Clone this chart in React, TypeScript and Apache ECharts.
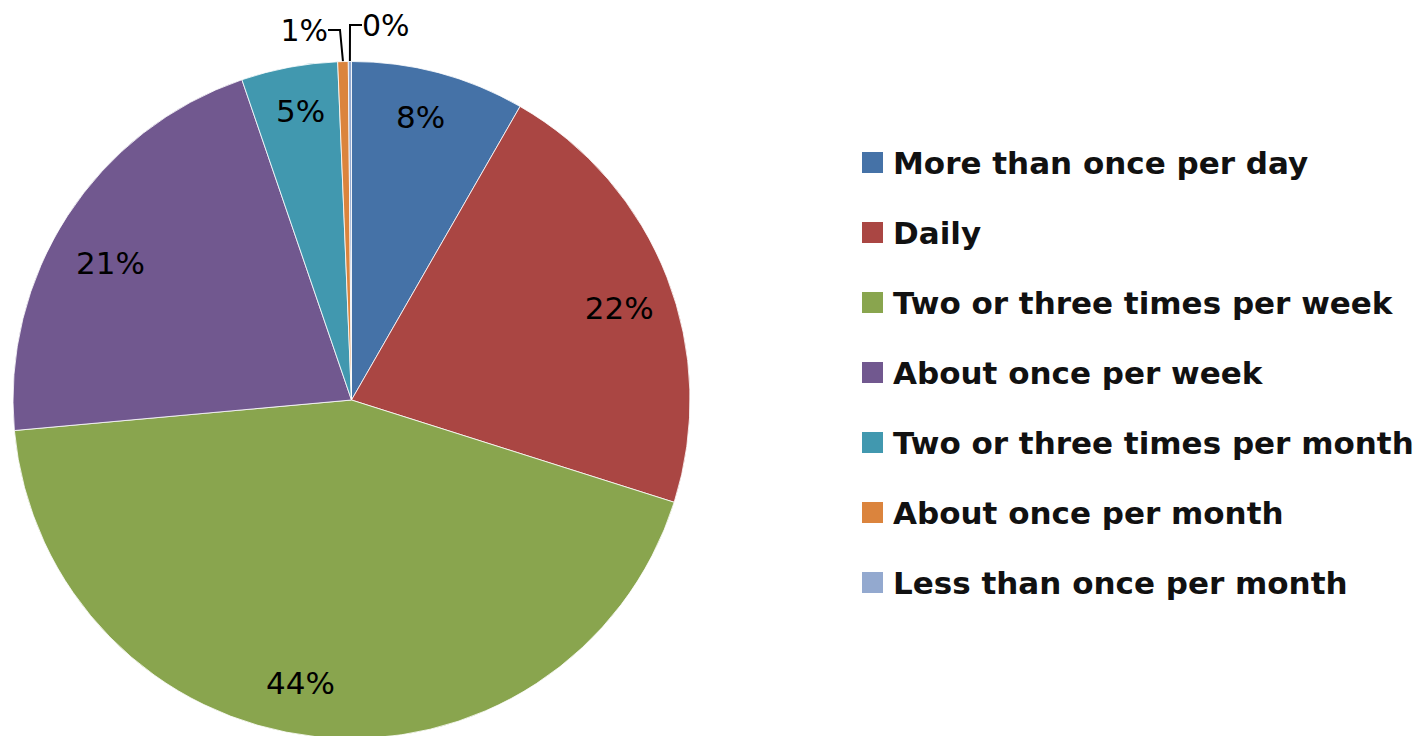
import React, { useEffect, useRef } from "react";
import * as echarts from "echarts";

const categories = [
  "More than once per day",
  "Daily",
  "Two or three times per week",
  "About once per week",
  "Two or three times per month",
  "About once per month",
  "Less than once per month",
];
const values = [8.3, 21.6, 43.7, 21.2, 4.6, 0.5, 0.15];
const labels = ["8%", "22%", "44%", "21%", "5%", "1%", "0%"];
const colors = ["#4572A7", "#AA4643", "#89A54E", "#71588F", "#4198AF", "#DB843D", "#93A9CF"];
const smallIdx = [5, 6];

export default function App() {
  const ref = useRef<HTMLDivElement>(null);
  useEffect(() => {
    const chart = echarts.init(ref.current!, null, { renderer: "svg" });
    const font = "'DejaVu Sans', sans-serif";
    const mainData = categories.map((name, i) => ({
      name,
      value: values[i],
      itemStyle: { color: colors[i] },
      label: smallIdx.includes(i)
        ? { show: true, position: "outside", formatter: labels[i] }
        : { show: false },
      labelLine: smallIdx.includes(i) ? { show: true } : { show: false },
    }));
    const overlayData = categories.map((name, i) => ({
      name,
      value: values[i],
      itemStyle: { color: "rgba(0,0,0,0)" },
      label: { show: !smallIdx.includes(i), formatter: labels[i] },
    }));
    const insideShift: Record<number, [number, number]> = {
      0: [-5, -5],
      1: [0, 12],
      2: [-20, -3],
      3: [0, 19],
      4: [2, -7],
    };
    chart.setOption({
      animation: false,
      legend: {
        orient: "vertical",
        left: 855,
        top: 142,
        itemWidth: 23,
        itemHeight: 23,
        itemGap: 39,
        icon: "rect",
        selectedMode: false,
        textStyle: { fontFamily: font, fontSize: 31, fontWeight: "bold", color: "#111", padding: [0, 0, 0, 4] },
        data: categories,
      },
      series: [
        {
          type: "pie",
          center: [351.5, 400],
          radius: [0, 338.5],
          startAngle: 90,
          clockwise: true,
          avoidLabelOverlap: false,
          minShowLabelAngle: 0,
          itemStyle: { borderColor: "#ffffff", borderWidth: 0.8 },
          label: { fontFamily: font, fontSize: 30, color: "#000" },
          labelLine: { length: 20, length2: 12, lineStyle: { color: "#000", width: 2 } },
          labelLayout: (p: any) => {
            if (p.dataIndex === 6) return { x: 362, y: 40, align: "left", verticalAlign: "bottom" };
            if (p.dataIndex === 5) return { x: 328, y: 45, align: "right", verticalAlign: "bottom" };
            return {};
          },
          emphasis: { disabled: true },
          data: mainData,
        },
        {
          type: "pie",
          center: [351.5, 400],
          radius: [230, 338.5],
          startAngle: 90,
          clockwise: true,
          silent: true,
          legendHoverLink: false,
          label: { position: "inside", fontFamily: font, fontSize: 31, color: "#000" },
          labelLine: { show: false },
          labelLayout: (p: any) => {
            const s = insideShift[p.dataIndex];
            return s ? { dx: s[0], dy: s[1] } : {};
          },
          emphasis: { disabled: true },
          data: overlayData,
        },
      ],
    });
    return () => chart.dispose();
  }, []);
  return <div ref={ref} style={{ position: "fixed", left: 0, top: 0, width: 1427, height: 736, background: "#fff" }} />;
}
